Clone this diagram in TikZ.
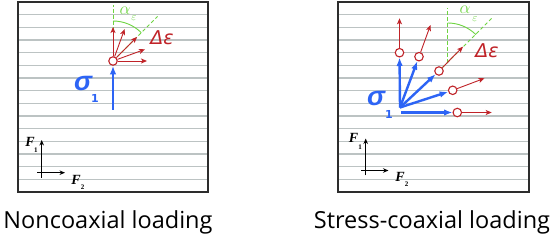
\documentclass[tikz,border=0pt]{standalone}
\usepackage{fontspec}
\setmainfont{Open Sans}
\newfontfamily\serf{Liberation Serif}
\newfontfamily\dvs{DejaVu Sans}
\newfontfamily\lsans{Liberation Sans}
\usetikzlibrary{arrows.meta}
\definecolor{gline}{RGB}{188,195,195}
\definecolor{bord}{RGB}{45,45,45}
\definecolor{dred}{RGB}{192,35,40}
\definecolor{sblue}{RGB}{45,100,245}
\definecolor{lgreen}{RGB}{110,212,65}
\begin{document}
\begin{tikzpicture}[x=1pt,y=-1pt,
  hl/.style={draw=gline,line width=1.2pt},
  frame/.style={draw=bord,line width=1.6pt},
  pt/.style={circle,draw=dred,line width=1.1pt,fill=white,inner sep=0pt,minimum size=8.5pt},
  redarrow/.style={draw=dred,line width=0.9pt,-{Stealth[length=6pt,width=5pt,inset=1.5pt]}},
  bluearrow/.style={draw=sblue,line width=2.4pt,-{Latex[length=8.5pt,width=6.5pt]}},
  gdash/.style={draw=lgreen,line width=0.8pt,dash pattern=on 3.5pt off 2.5pt},
  garc/.style={draw=lgreen,line width=0.9pt},
  axarrow/.style={draw=black,line width=1.1pt,-{Stealth[length=5.5pt,width=4.5pt]}},
  deps/.style={text=dred,font=\dvs\itshape\fontsize{19}{19}\selectfont,inner sep=0pt},
  sig/.style={text=sblue,font=\lsans\bfseries\itshape\fontsize{27}{27}\selectfont,inner sep=0pt},
  sigsub/.style={text=sblue,font=\dvs\bfseries\fontsize{11}{11}\selectfont,inner sep=0pt},
  alph/.style={text=lgreen,font=\fontsize{17}{17}\selectfont,inner sep=0pt},
  alphsub/.style={text=lgreen,font=\fontsize{11}{11}\selectfont,inner sep=0pt},
  flab/.style={font=\serf\bfseries\itshape\fontsize{14}{14}\selectfont,inner sep=0pt},
  fsub/.style={font=\serf\bfseries\fontsize{7}{7}\selectfont,inner sep=0pt},
  captext/.style={font=\fontsize{23.5}{28}\selectfont,inner sep=0pt,anchor=base}
]
\useasboundingbox (0,0) rectangle (555,240);
\fill[white] (0,0) rectangle (555,240);

% ---------- ruled boxes ----------
\foreach \k in {1,...,14} {
  \draw[hl] (18,{2+12.667*\k}) -- (208,{2+12.667*\k});
  \draw[hl] (338,{2+12.667*\k}) -- (529,{2+12.667*\k});
}
\path[frame] (18,2) rectangle (208,192);
\path[frame] (338,2) rectangle (529,192);

% ---------- left: noncoaxial ----------
\coordinate (LV) at (113,61);
\path (LV) ++(-90:56) coordinate (LVtop);
\path (LV) ++(-45:63) coordinate (LDtop);
\draw[gdash] (LV) -- (LVtop);
\draw[gdash] (LV) -- (LDtop);
\draw[garc] (LV) ++(-90:40) arc[start angle=-90,end angle=-45,radius=40];
\node[pt] (L0) at (LV) {};
\foreach \a/\n in {-90/a,-70/b,-45/c,-20/d,0/e} {
  \path (LV) ++(\a:34) coordinate (Lt\n);
  \draw[redarrow] (L0) -- (Lt\n);
}
\coordinate (LB) at (113,110);
\draw[bluearrow] (LB) -- (L0);
\node[deps] (Lde) at (162,38) {Δε};
\node[sig] (Lsig) at (83,84) {σ};
\node[sigsub] (Lsigs) at (95,98) {1};
\node[alph] (Lal) at (125,10.5) {$\alpha$};
\node[alphsub] (Lals) at (134,18) {$\varepsilon$};

% axes left
\coordinate (LF1a) at (41.7,178);
\coordinate (LF1b) at (41.7,140);
\coordinate (LF2a) at (37,172.7);
\coordinate (LF2b) at (65,172.7);
\draw[axarrow] (LF1a) -- (LF1b);
\draw[axarrow] (LF2a) -- (LF2b);
\node[flab] (LF1) at (30,141.5) {F};
\node[fsub] (LF1s) at (36,150) {1};
\node[flab] (LF2) at (76,180) {F};
\node[fsub] (LF2s) at (82.5,187) {2};

% ---------- right: stress-coaxial ----------
\coordinate (RO) at (400,107.5);
\coordinate (RO5) at (401,112.5);
\node[pt] (c1) at (399.5,52.7) {};
\node[pt] (c2) at (419,56.7) {};
\node[pt] (c3) at (439,71) {};
\node[pt] (c4) at (452.7,90.3) {};
\node[pt] (c5) at (457.3,112.5) {};
\coordinate (RV) at (447.7,63);
\coordinate (RVtop) at (447.7,8);
\coordinate (RDtop) at (491.7,18.3);
\draw[gdash] (RV) -- (RVtop);
\draw[gdash] (c3) -- (RDtop);
\draw[garc] (RV) ++(-90:40) arc[start angle=-90,end angle=-45,radius=40];
\coordinate (t1) at (399.5,18.3);
\coordinate (t2) at (430.5,25);
\coordinate (t3) at (463,46.7);
\coordinate (t4) at (484.5,78.3);
\coordinate (t5) at (491.7,112.5);
\foreach \i in {1,...,5} {
  \draw[redarrow] (c\i) -- (t\i);
}
\foreach \i in {1,...,4} {
  \draw[bluearrow] (RO) -- (c\i);
}
\draw[bluearrow] (RO5) -- (c5);
\node[deps] (Rde) at (487,51) {Δε};
\node[sig] (Rsig) at (376,99) {σ};
\node[sigsub] (Rsigs) at (389,114) {1};
\node[alph] (Ral) at (465,10) {$\alpha$};
\node[alphsub] (Rals) at (475,19) {$\varepsilon$};

% axes right
\coordinate (RF1a) at (365.7,175.5);
\coordinate (RF1b) at (365.7,138.5);
\coordinate (RF2a) at (361,170.5);
\coordinate (RF2b) at (388.5,170.5);
\draw[axarrow] (RF1a) -- (RF1b);
\draw[axarrow] (RF2a) -- (RF2b);
\node[flab] (RF1) at (353.5,138) {F};
\node[fsub] (RF1s) at (360,147.5) {1};
\node[flab] (RF2) at (400,177) {F};
\node[fsub] (RF2s) at (406.5,184) {2};

% ---------- captions ----------
\node[captext] (cap1) at (108,229) {Noncoaxial loading};
\node[captext] (cap2) at (432,229) {Stress-coaxial loading};
\end{tikzpicture}
\end{document}
